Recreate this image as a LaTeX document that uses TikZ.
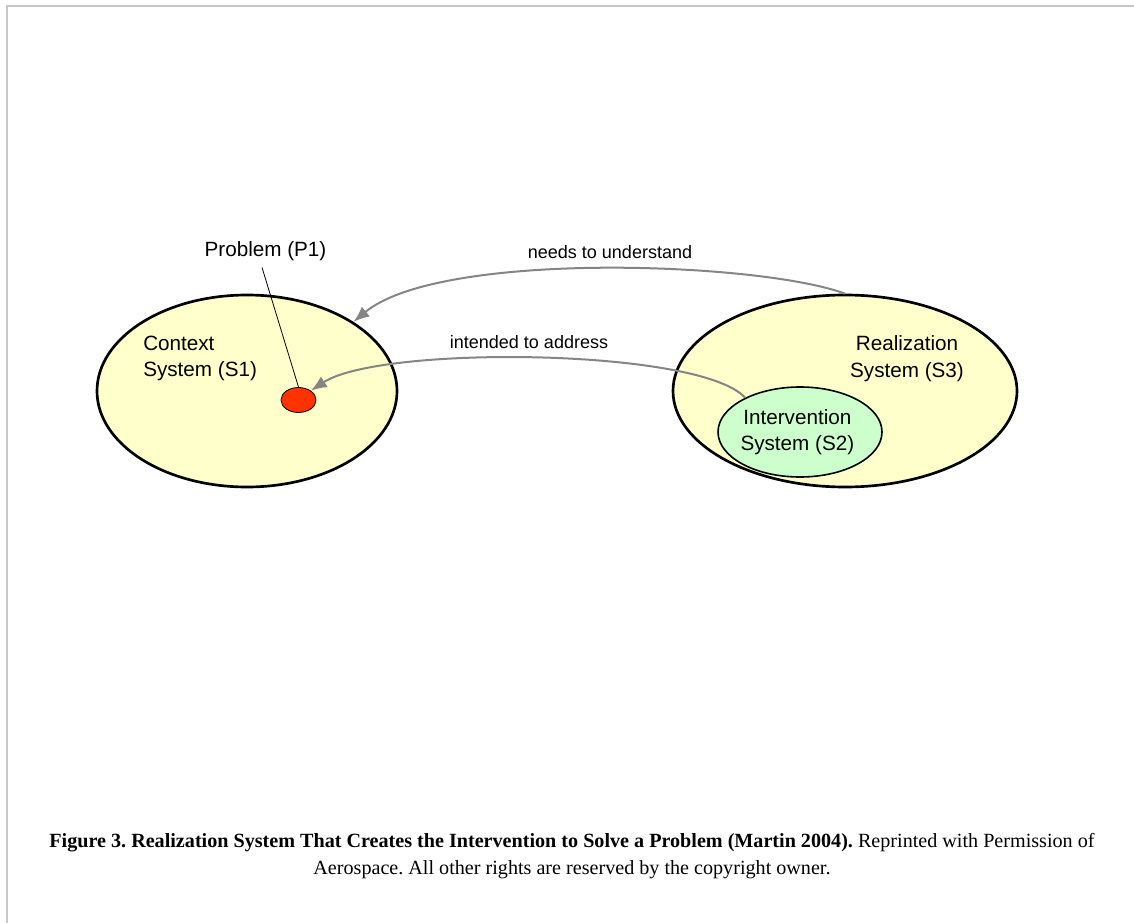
\documentclass[tikz,border=0pt]{standalone}
\usepackage{fontspec}
\setmainfont{Liberation Serif}
\setsansfont{Liberation Sans}
\usetikzlibrary{shapes.geometric,arrows.meta}
\definecolor{sysyellow}{HTML}{FFFFCC}
\definecolor{sysgreen}{HTML}{CCFFCC}
\definecolor{probred}{HTML}{FF3300}
\definecolor{arrowgray}{HTML}{858585}
\definecolor{framegray}{HTML}{C8C8C8}
\tikzset{
  sysell/.style={ellipse, draw=black, line width=2pt, fill=sysyellow, inner sep=0pt},
  subell/.style={ellipse, draw=black, line width=1.2pt, fill=sysgreen, inner sep=0pt,
    font=\sffamily\fontsize{15.5}{20}\selectfont, align=center},
  lbl/.style={font=\sffamily\fontsize{15.5}{20}\selectfont, inner sep=0pt},
  arrlbl/.style={font=\sffamily\fontsize{13.5}{16}\selectfont, inner sep=0pt},
  relarrow/.style={draw=arrowgray, line width=1.5pt, -{Latex[length=12pt,width=9.5pt]}},
}
\begin{document}
\frenchspacing
\begin{tikzpicture}[x=0.75pt,y=-0.75pt]
\useasboundingbox (0,0) rectangle (1134,923);
% frame
\draw[framegray, line width=1.1pt] (7,923) -- (7,6) -- (1134,6);
% systems
\node[sysell, minimum width=225pt, minimum height=144pt] (ctx) at (247,391) {};
\node[sysell, minimum width=258pt, minimum height=144pt] (real) at (845,391) {};
\node[subell, minimum width=123pt, minimum height=67.5pt] (int) at (800,432) {\hspace*{-4pt}Intervention\\\hspace*{-4pt}System (S2)};
\node[ellipse, draw=black, line width=0.6pt, fill=probred, minimum width=26.25pt, minimum height=18.75pt, inner sep=0pt] (dot) at (298.5,400) {};
% texts
\node[lbl, align=left, anchor=west] (ctxt) at (143,358.5) {Context\\System (S1)};
\node[lbl, align=center] (realt) at (907,358.5) {Realization\\System (S3)};
\node[lbl] (prob) at (265.5,251) {Problem (P1)};
% problem pointer
\draw[black, line width=0.6pt] ([xshift=-2.6pt,yshift=-5pt]prob.south) -- (dot.north);
% relations
\draw[relarrow] (real.north) .. controls (760,262) and (440,250) .. (ctx.33);
\node[arrlbl] (l1) at (610,252) {needs to understand};
\draw[relarrow] (int.148) .. controls (700,348) and (380,345) .. (dot.37);
\node[arrlbl] (l2) at (529,342) {intended to address};
% caption
\node[align=center, font=\fontsize{15.1}{20.25}\selectfont, inner sep=0pt] (cap) at (572,856)
 {\textbf{Figure 3. Realization System That Creates the Intervention to Solve a Problem (Martin 2004).} Reprinted with Permission of\\Aerospace. All other rights are reserved by the copyright owner.};
\end{tikzpicture}
\end{document}
